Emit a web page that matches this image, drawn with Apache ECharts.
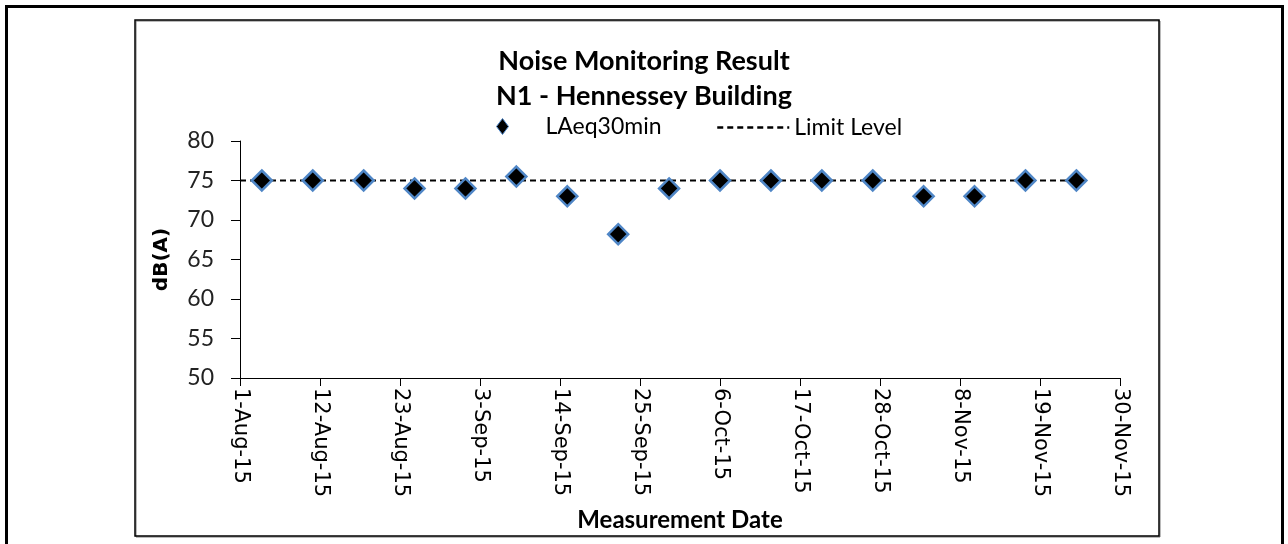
<!DOCTYPE html>
<html>
<head>
<meta charset="utf-8">
<script src="https://cdn.jsdelivr.net/npm/echarts@6/dist/echarts.min.js"></script>
<style>
html,body{margin:0;padding:0;background:#fff;}
#c{width:1288px;height:544px;}
</style>
</head>
<body>
<div id="c"></div>
<script>
// ---- data ----
const titleLines = ['Noise Monitoring Result', 'N1 - Hennessey Building'];
const measureDates = ['2015-08-04','2015-08-11','2015-08-18','2015-08-25','2015-09-01','2015-09-08','2015-09-15','2015-09-22','2015-09-29','2015-10-06','2015-10-13','2015-10-20','2015-10-27','2015-11-03','2015-11-10','2015-11-17','2015-11-24'];
const laeqValues = [75, 75, 75, 74, 74, 75.5, 73, 68.2, 74, 75, 75, 75, 75, 73, 73, 75, 75];
const limitDates = ['2015-08-01', '2015-11-24'];
const limitValues = [75, 75];
const xStartDate = '2015-08-01';
const xTickLabels = ['1-Aug-15','12-Aug-15','23-Aug-15','3-Sep-15','14-Sep-15','25-Sep-15','6-Oct-15','17-Oct-15','28-Oct-15','8-Nov-15','19-Nov-15','30-Nov-15'];
const xTickDays = 11;
const yMin = 50, yMax = 80, yStep = 5;

// ---- helpers ----
function dayOffset(s) {
  const p = s.split('-').map(Number), q = xStartDate.split('-').map(Number);
  return Math.round((Date.UTC(p[0], p[1]-1, p[2]) - Date.UTC(q[0], q[1]-1, q[2])) / 86400000);
}
const laeqData = measureDates.map((d, i) => [dayOffset(d), laeqValues[i]]);
const limitData = limitDates.map((d, i) => [dayOffset(d), limitValues[i]]);

const chart = echarts.init(document.getElementById('c'), null, {renderer: 'canvas'});
chart.setOption({
  backgroundColor: '#fff',
  animation: false,
  title: {
    text: titleLines.join('\n'),
    left: 'center',
    top: 39,
    textStyle: {fontFamily: 'Lato', fontWeight: 'bold', fontSize: 27, lineHeight: 35, color: '#000'}
  },
  legend: [
    {
      data: [{name: 'LAeq30min', itemStyle: {color: '#000', borderColor: '#4f86c6', borderWidth: 1, opacity: 1}}],
      left: 491, top: 110,
      itemWidth: 12, itemHeight: 16,
      symbolKeepAspect: false,
      textStyle: {fontFamily: 'Lato', fontSize: 23, color: '#000', padding: [0, 0, 0, 32]}
    },
    {
      data: [{name: 'Limit Level', itemStyle: {opacity: 0}}],
      left: 711, top: 111,
      itemWidth: 72, itemHeight: 14,
      lineStyle: {width: 2.5},
      textStyle: {fontFamily: 'Lato', fontSize: 23, color: '#000'}
    }
  ],
  grid: {left: 240, right: 168, top: 141, bottom: 166, containLabel: false},
  xAxis: {
    type: 'value',
    min: 0,
    max: xTickDays * (xTickLabels.length - 1),
    interval: xTickDays,
    name: 'Measurement Date',
    nameLocation: 'middle',
    nameGap: 130,
    nameTextStyle: {fontFamily: 'Lato', fontWeight: 'bold', fontSize: 24, color: '#000'},
    axisLine: {show: true, lineStyle: {color: '#000', width: 1}},
    axisTick: {show: true, length: 8, lineStyle: {color: '#000'}},
    splitLine: {show: false},
    axisLabel: {
      rotate: -90,
      margin: 10,
      fontFamily: 'DejaVu Sans',
      fontSize: 21,
      color: '#000',
      formatter: function (v) { return xTickLabels[Math.round(v / xTickDays)] || ''; }
    }
  },
  yAxis: {
    type: 'value',
    min: yMin, max: yMax, interval: yStep,
    name: 'dB(A)',
    nameLocation: 'middle',
    nameRotate: 90,
    nameGap: 68,
    nameTextStyle: {fontFamily: 'DejaVu Sans', fontWeight: 'bold', fontSize: 20, color: '#000'},
    axisLine: {show: true, lineStyle: {color: '#000', width: 1}},
    axisTick: {show: true, length: 9, lineStyle: {color: '#000'}},
    splitLine: {show: false},
    axisLabel: {margin: 26, fontFamily: 'Lato', fontSize: 23, color: '#222'}
  },
  series: [
    {
      name: 'Limit Level',
      type: 'line',
      data: limitData,
      symbol: 'none',
      lineStyle: {color: '#000', width: 2, type: [6, 4]},
      itemStyle: {color: '#000'},
      z: 2
    },
    {
      name: 'LAeq30min',
      type: 'scatter',
      data: laeqData,
      symbol: 'diamond',
      symbolSize: 20,
      symbolKeepAspect: true,
      itemStyle: {color: '#000', borderColor: '#4f86c6', borderWidth: 2.5, opacity: 1},
      z: 3
    }
  ],
  graphic: [
    {type: 'rect', shape: {x: 6.5, y: 6.5, width: 1276, height: 600}, style: {fill: 'none', stroke: '#000', lineWidth: 3}, silent: true},
    {type: 'rect', shape: {x: 136, y: 21, width: 1024, height: 516}, style: {fill: 'none', stroke: '#777', lineWidth: 1}, silent: true},
    {type: 'rect', shape: {x: 135, y: 20, width: 1024, height: 516}, style: {fill: 'none', stroke: '#000', lineWidth: 1.5}, silent: true}
  ]
});
</script>
</body>
</html>
